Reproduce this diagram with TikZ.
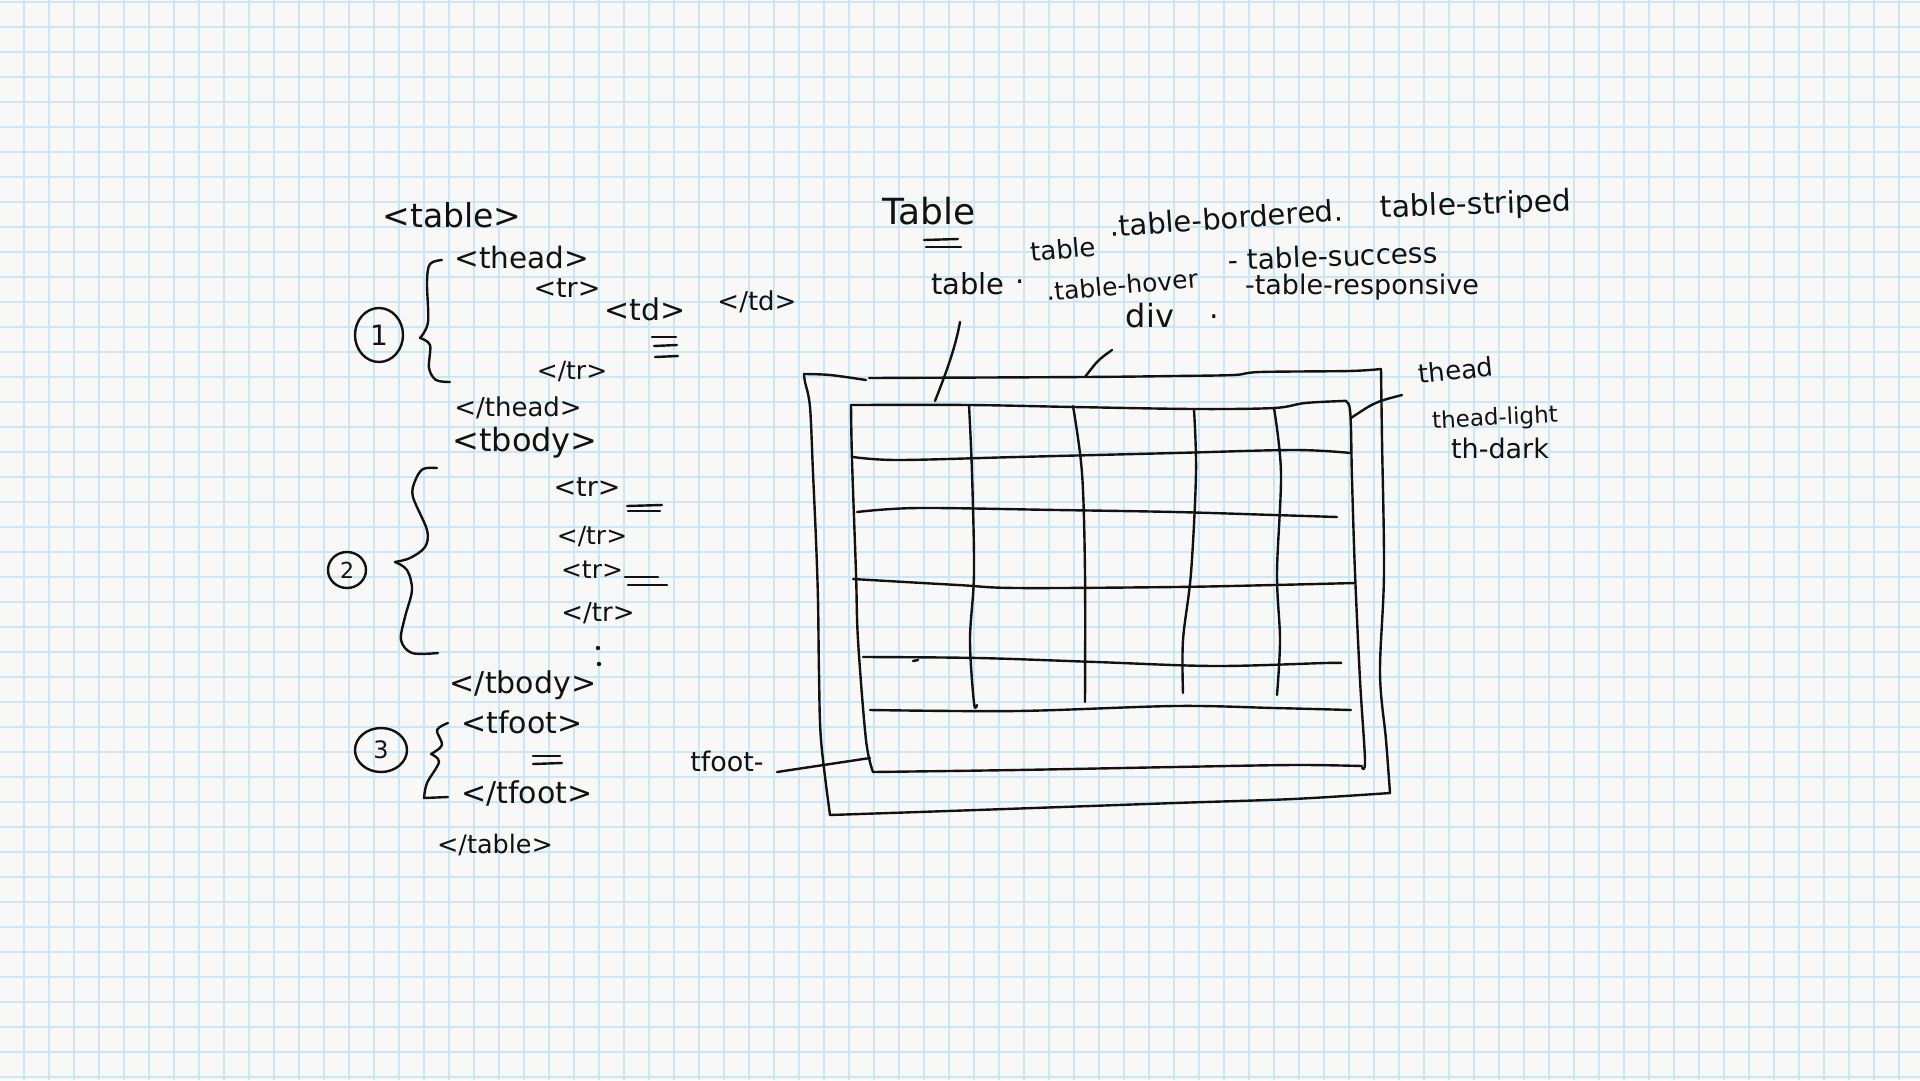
\documentclass[tikz,border=0pt]{standalone}
\usepackage{fontspec}
\setmainfont{DejaVu Sans}
\usetikzlibrary{shapes.geometric}
\definecolor{paper}{RGB}{248,248,246}
\definecolor{gridblue}{RGB}{202,231,248}
\definecolor{ink}{RGB}{18,18,18}
\newcommand\hwfs[1]{\fontsize{#1pt}{#1pt}\selectfont}
\tikzset{
  pen/.style={draw=ink, line width=2.4pt, line cap=round, line join=round},
  note/.style={inner sep=0pt, text=ink, font=\hwfs{#1}},
  gridline/.style={draw=gridblue, line width=1.6pt},
  wob/.style={smooth, tension=0.55},
}
\begin{document}
\begin{tikzpicture}[x=1pt,y=-1pt]
% paper and squared grid
\fill[paper] (0,0) rectangle (1920,1080);
\useasboundingbox (0,0) rectangle (1920,1080);
\foreach \i in {0,...,77} \draw[gridline] ({25*\i-1},0) -- ({25*\i-1},1080);
\foreach \j in {0,...,43} \draw[gridline] (0,{25*\j+2}) -- (1920,{25*\j+2});

% ---------- markup outline on the left ----------
\node[note=33] (tOpen) at (452,215) {<table>};
\node[note=29.5] (hOpen) at (522,257) {<thead>};
\node[note=27] (hrOpen) at (567,288) {<tr>};
\node[note=30] (tdOpen) at (645,309) {<td>};
\node[note=26] (tdClose) at (757,302) {</td>};
\node[note=25] (hrClose) at (572,372) {</tr>};
\node[note=26] (hClose) at (518,408) {</thead>};
\node[note=32] (bOpen) at (525,443) {<tbody>};
\node[note=27] (brOpenA) at (587,487) {<tr>};
\node[note=25] (brCloseA) at (592,537) {</tr>};
\node[note=25] (brOpenB) at (592,570) {<tr>};
\node[note=26] (brCloseB) at (598,613) {</tr>};
\node[note=30] (bClose) at (523,685) {</tbody>};
\node[note=30] (fOpen) at (522,722) {<tfoot>};
\node[note=30] (fClose) at (527,793) {</tfoot>};
\node[note=25.5] (tClose) at (495,845) {</table>};

% repeat marks
\draw[pen] (652,337) -- (676,337);
\draw[pen] (654,346) -- (677,345);
\draw[pen] (655,357) -- (678,356);
\draw[pen] (627,506) -- (662,505);
\draw[pen] (628,511) -- (660,511);
\draw[pen] (625,577) -- (658,577);
\draw[pen] (628,585) -- (667,585);
\draw[pen] (533,756) -- (560,756);
\draw[pen] (533,764) -- (562,763);
\fill[ink] (598,648) circle (2.2pt);
\fill[ink] (599,664) circle (2.2pt);

% numbered groups
\node[pen, ellipse, minimum width=48pt, minimum height=54pt, note=28] (num1) at (379,335) {1};
\node[pen, ellipse, minimum width=38pt, minimum height=36pt, note=22] (num2) at (347,570) {2};
\node[pen, ellipse, minimum width=52pt, minimum height=44pt, note=24] (num3) at (381,750) {3};

% braces
\draw[pen] plot[wob] coordinates {(442,260) (430,264) (427,282) (428,322) (420,338)};
\draw[pen] plot[wob] coordinates {(420,338) (430,345) (429,368) (436,380) (450,382)};
\draw[pen] plot[wob] coordinates {(437,468) (423,469) (415,481) (413,497) (427,530) (425,547) (410,558) (395,562)};
\draw[pen] plot[wob] coordinates {(395,562) (407,570) (412,590) (405,617) (401,640) (412,653) (438,653)};
\draw[pen] plot[wob] coordinates {(448,723) (437,730) (442,745) (431,754)};
\draw[pen] plot[wob] coordinates {(431,754) (439,762) (427,783) (424,798)} -- (448,797);

% ---------- class notes ----------
\node[note=36] (title) at (929,211) {Table};
\draw[pen] (924,240) -- (958,239);
\draw[pen] (926,247) -- (961,247);
\node[note=29] (clsTable) at (968,284) {table};
\node[note=29] (dotA) at (1020,282) {.};
\node[note=26, rotate=5] (clsTableB) at (1063,249) {table};
\node[note=29, rotate=4] (clsBordered) at (1226,218) {.table-bordered.};
\node[note=30, rotate=2] (clsStriped) at (1476,206) {table-striped};
\node[note=25, rotate=5] (clsHover) at (1122,285) {.table-hover};
\node[note=28, rotate=2] (clsSuccess) at (1333,256) {- table-success};
\node[note=27] (clsResp) at (1362,287) {-table-responsive};
\node[note=32] (divLbl) at (1150,316) {div};
\node[note=30] (dotB) at (1214,317) {.};
\node[note=26, rotate=6] (theadLbl) at (1456,370) {thead};
\node[note=23, rotate=3] (lightLbl) at (1495,419) {thead-light};
\node[note=27] (darkLbl) at (1500,448) {th-dark};
\node[note=27] (tfootLbl) at (727,761) {tfoot-};

% ---------- sketched table ----------
% outer wrapper
\draw[pen] plot[wob] coordinates {(866,380) (830,375) (804,374)};
\draw[pen] plot[wob] coordinates {(804,374) (805,382) (810,407) (813,473) (816,540) (818,600) (819,673) (821,740) (830,815)};
\draw[pen] plot[wob] coordinates {(830,815) (977,810) (1175,803) (1293,799) (1390,793)};
\draw[pen] plot[wob] coordinates {(1381,369) (1382,440) (1384,573) (1380,673) (1386,740) (1390,793)};
\draw[pen] plot[wob] coordinates {(869,378) (1084,377) (1175,376) (1234,375) (1260,372) (1349,371) (1381,369)};
% inner frame
\draw[pen] plot[wob] coordinates {(851,405) (970,405) (1074,407) (1195,409) (1274,408) (1305,403) (1343,401)};
\draw[pen] plot[wob] coordinates {(1343,401) (1350,410) (1352,480) (1355,573) (1360,680) (1365,760) (1362,768)};
\draw[pen] plot[wob] coordinates {(873,772) (1017,770) (1175,767) (1294,765) (1362,766)};
\draw[pen] plot[wob] coordinates {(851,405) (852,460) (856,573) (858,640) (866,740) (873,772)};
% rows
\draw[pen] plot[wob] coordinates {(853,457) (898,460) (1017,457) (1175,453) (1294,450) (1351,453)};
\draw[pen] plot[wob] coordinates {(857,512) (918,508) (1057,510) (1175,512) (1274,515) (1337,517)};
\draw[pen] plot[wob] coordinates {(853,579) (958,585) (1017,588) (1175,587) (1274,585) (1355,583)};
\draw[pen] plot[wob] coordinates {(863,657) (978,658) (1096,662) (1215,666) (1325,663) (1341,663)};
\draw[pen] plot[wob] coordinates {(870,710) (1017,711) (1175,706) (1274,708) (1351,710)};
\draw[pen] (913,661) -- (918,660);
% columns
\draw[pen] plot[wob] coordinates {(969,405) (972,473) (974,573) (970,640) (974,703) (977,705)};
\draw[pen] plot[wob] coordinates {(1073,406) (1082,473) (1085,573) (1085,702)};
\draw[pen] plot[wob] coordinates {(1194,410) (1196,473) (1191,573) (1183,640) (1183,693)};
\draw[pen] plot[wob] coordinates {(1274,408) (1281,473) (1277,573) (1280,640) (1277,695)};

% ---------- leaders ----------
\coordinate (tblTop) at (960,322);
\coordinate (tblFoot) at (935,401);
\coordinate (divTop) at (1112,350);
\coordinate (divFoot) at (1085,377);
\coordinate (theadFoot) at (1351,418);
\coordinate (theadEnd) at (1402,395);
\coordinate (tfootStart) at (777,772);
\coordinate (tfootFoot) at (870,758);
\draw[pen] (tblTop) .. controls (955,350) and (944,378) .. (tblFoot);
\draw[pen] (divTop) .. controls (1098,360) .. (divFoot);
\draw[pen] (theadFoot) .. controls (1375,402) .. (theadEnd);
\draw[pen] (tfootStart) -- (tfootFoot);
\end{tikzpicture}
\end{document}
